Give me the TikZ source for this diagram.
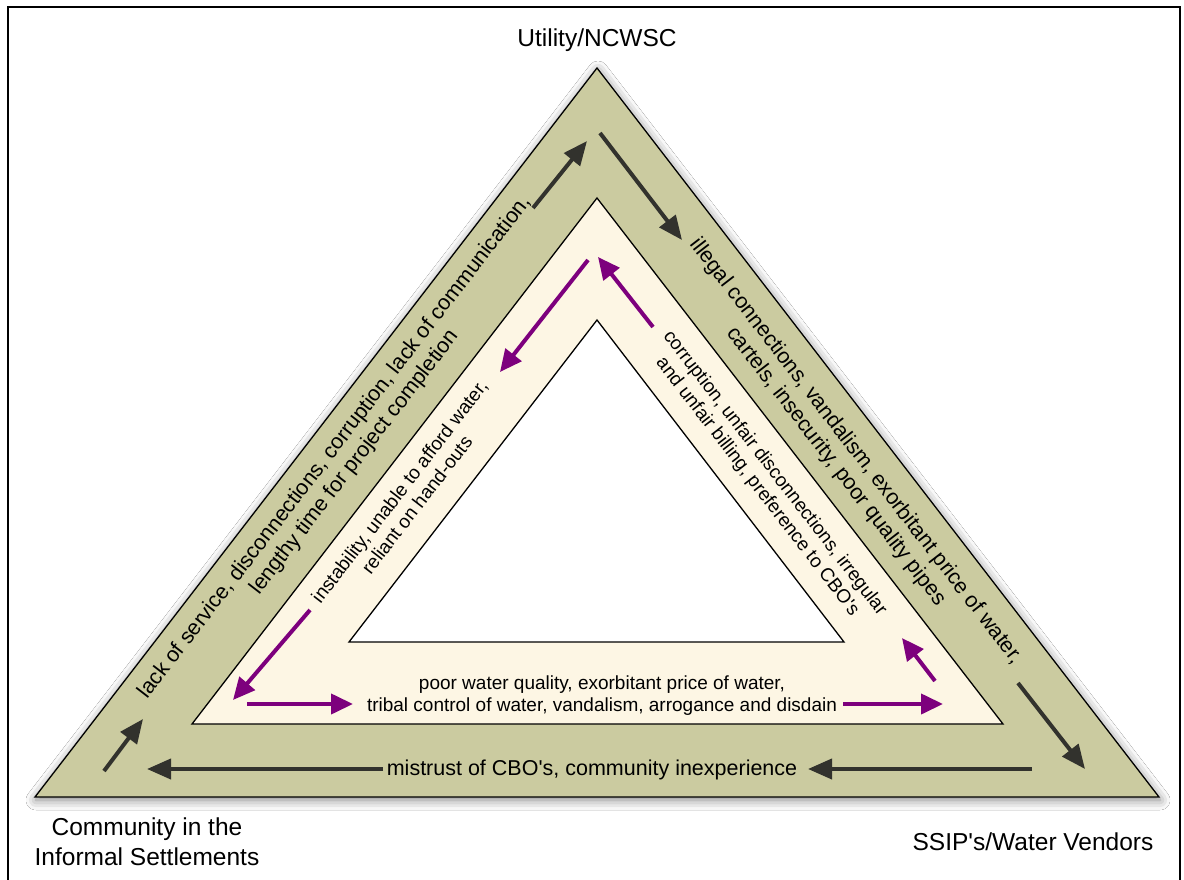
\documentclass[tikz,border=0pt]{standalone}
\usepackage{fontspec}
\setmainfont{Liberation Sans}[Ligatures=TeXOff]
\usetikzlibrary{arrows.meta,shadows.blur}
\definecolor{bandolive}{RGB}{203,203,160}
\definecolor{bandcream}{RGB}{253,246,228}
\definecolor{darkarrow}{RGB}{50,50,45}
\definecolor{purp}{RGB}{125,0,125}
\begin{document}
\begin{tikzpicture}[x=1pt,y=-1pt,
  tri/.style={draw=black, line width=1.3pt, line join=miter},
  darr/.style={draw=darkarrow, line width=4pt, -{Triangle[length=24pt,width=20pt]}},
  parr/.style={draw=purp, line width=4pt, -{Triangle[length=22pt,width=20pt]}},
  lbl/.style={font=\fontsize{24.5}{30}\selectfont, align=center, inner sep=0pt},
  otxt/.style={font=\fontsize{21.5}{25}\selectfont, align=center, inner sep=0pt},
  itxt/.style={font=\fontsize{19}{22}\selectfont, align=center, inner sep=0pt},
]
\useasboundingbox (0,0) rectangle (1184,880);
\fill[white] (0,0) rectangle (1184,880);
\draw[line width=1.3pt] (8,890) -- (8,7) -- (1180,7) -- (1180,890);

% triangle corners
\coordinate (OT) at (597,68);
\coordinate (OL) at (35,797);
\coordinate (OR) at (1159,797);
\coordinate (MT) at (597,198);
\coordinate (ML) at (192,724);
\coordinate (MR) at (1003,724);
\coordinate (IT) at (597,320);
\coordinate (IL) at (349,642);
\coordinate (IR) at (844,642);

\filldraw[tri, fill=bandolive, blur shadow={shadow xshift=1pt, shadow yshift=-3pt, shadow blur radius=10pt, shadow opacity=50}] (OT) -- (OR) -- (OL) -- cycle;
\filldraw[tri, fill=bandcream] (MT) -- (MR) -- (ML) -- cycle;
\filldraw[tri, fill=white] (IT) -- (IR) -- (IL) -- cycle;

% dark arrows (outer band)
\coordinate (d1a) at (104,771); \coordinate (d1b) at (143,719);
\coordinate (d2a) at (533,208); \coordinate (d2b) at (587,141);
\coordinate (d3a) at (600,133); \coordinate (d3b) at (682,240);
\coordinate (d4a) at (1018,683); \coordinate (d4b) at (1085,769);
\coordinate (d5a) at (1032,769); \coordinate (d5b) at (808,769);
\coordinate (d6a) at (383,769); \coordinate (d6b) at (147,769);
\draw[darr] (d1a) -- (d1b);
\draw[darr] (d2a) -- (d2b);
\draw[darr] (d3a) -- (d3b);
\draw[darr] (d4a) -- (d4b);
\draw[darr] (d5a) -- (d5b);
\draw[darr] (d6a) -- (d6b);

% purple arrows (middle band)
\coordinate (p1a) at (588,260); \coordinate (p1b) at (500,372);
\coordinate (p2a) at (310,610); \coordinate (p2b) at (233,700);
\coordinate (p3a) at (247,704); \coordinate (p3b) at (353,704);
\coordinate (p4a) at (843,704); \coordinate (p4b) at (943,704);
\coordinate (p5a) at (935,681); \coordinate (p5b) at (902,638);
\coordinate (p6a) at (653,327); \coordinate (p6b) at (598,257);
\draw[parr] (p1a) -- (p1b);
\draw[parr] (p2a) -- (p2b);
\draw[parr] (p3a) -- (p3b);
\draw[parr] (p4a) -- (p4b);
\draw[parr] (p5a) -- (p5b);
\draw[parr] (p6a) -- (p6b);

% corner labels
\node[lbl] (util) at (597,40) {Utility/NCWSC};
\node[lbl] (comm) at (147,842) {Community in the\\Informal Settlements};
\node[lbl] (ssip) at (1033,842) {SSIP's/Water Vendors};

% outer band texts
\node[otxt, rotate=52.37] (oleft) at (345,455) {lack of service, disconnections, corruption, lack of communication,\\lengthy time for project completion};
\node[otxt, rotate=-52.37] (oright) at (846,459) {illegal connections, vandalism, exorbitant price of water,\\cartels, insecurity, poor quality pipes};
\node[otxt] (obottom) at (592,770) {mistrust of CBO's, community inexperience};

% middle band texts
\node[itxt, rotate=52.37] (mleft) at (408,498) {instability, unable to afford water,\\reliant on hand-outs};
\node[itxt, rotate=-52.37] (mright) at (766,480) {corruption, unfair disconnections, irregular\\and unfair billing, preference to CBO's};
\node[itxt] (mbottom) at (602,696) {poor water quality, exorbitant price of water,\\tribal control of water, vandalism, arrogance and disdain};
\end{tikzpicture}
\end{document}
